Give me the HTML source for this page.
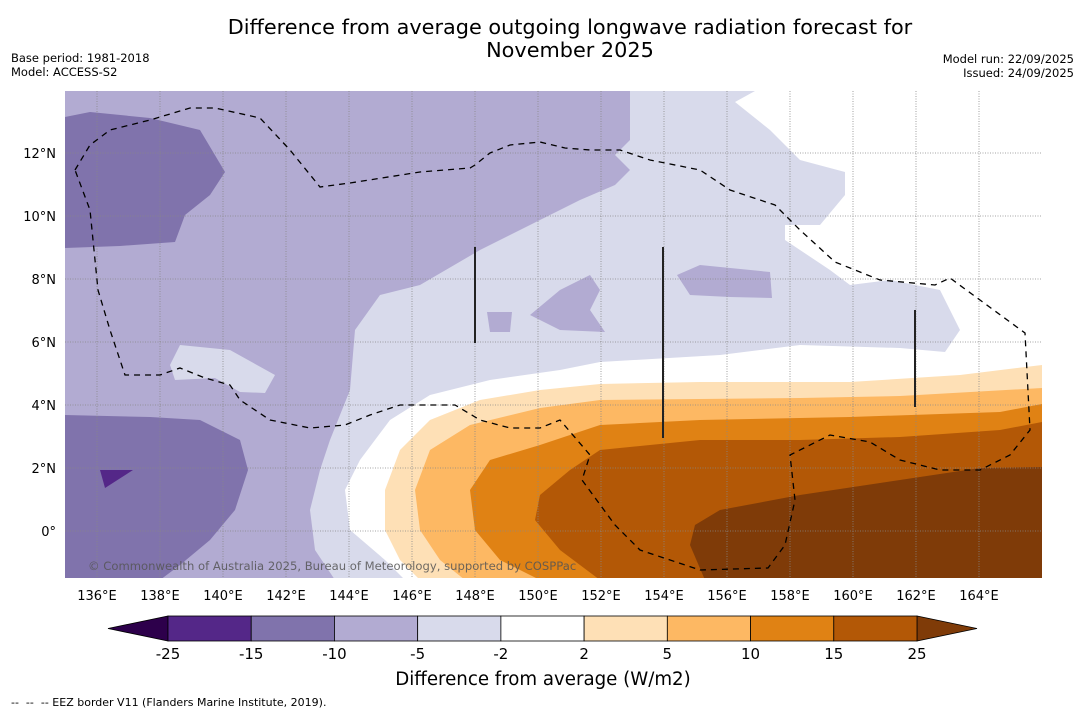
<!DOCTYPE html>
<html><head><meta charset="utf-8"><style>
body{margin:0;background:#fff;width:1085px;height:713px;overflow:hidden;font-family:"Liberation Sans","DejaVu Sans",sans-serif}
svg text{font-family:"DejaVu Sans","Liberation Sans",sans-serif}
</style></head><body>
<svg id="chart" width="1085" height="713" xmlns="http://www.w3.org/2000/svg">
<text x="570" y="34" font-size="20.8" text-anchor="middle">Difference from average outgoing longwave radiation forecast for</text>
<text x="570" y="57" font-size="20.8" text-anchor="middle">November 2025</text>
<text x="11" y="62" font-size="11.5">Base period: 1981-2018</text>
<text x="11" y="76" font-size="11.5">Model: ACCESS-S2</text>
<text x="1074" y="63" font-size="11.5" text-anchor="end">Model run: 22/09/2025</text>
<text x="1074" y="77" font-size="11.5" text-anchor="end">Issued: 24/09/2025</text>
<defs><clipPath id="mc"><rect x="65" y="91" width="977" height="487"/></clipPath></defs>
<g clip-path="url(#mc)">
<rect x="65" y="91" width="977" height="487" fill="#b2abd2"/>
<polygon fill="#8073ac" points="65,117 90,112 150,118 200,130 225,172 210,195 185,215 175,242 120,246 65,248"/>
<polygon fill="#8073ac" points="65,415 150,417 200,420 240,440 248,470 235,510 210,540 180,565 160,580 65,580"/>
<polygon fill="#542788" points="100,470 133,470 105,488"/>
<polygon fill="#d8daeb" points="630,91 1042,91 1042,580 335,580 315,550 310,510 320,470 330,440 350,390 355,330 380,295 420,285 480,250 540,220 580,200 615,185 630,170 615,155 630,140"/>
<polygon fill="#d8daeb" points="170,365 180,345 230,350 275,375 265,393 240,392 215,378 175,380"/>
<polygon fill="#b2abd2" points="530,315 560,290 590,275 600,290 590,310 605,332 560,330"/>
<polygon fill="#b2abd2" points="487,312 512,312 510,332 490,332"/>
<polygon fill="#b2abd2" points="677,275 700,265 770,272 772,298 730,297 690,295"/>
<polygon fill="#ffffff" points="1042,91 755,91 735,102 770,130 800,160 845,172 845,195 820,225 785,225 785,240 830,270 850,285 890,280 940,290 960,330 945,352 900,348 800,345 720,355 600,362 560,370 490,380 430,395 390,420 360,460 345,490 350,530 385,560 405,580 1042,580"/>
<polygon fill="#fee0b6" points="1042,365 960,375 850,382 700,382 600,384 540,390 480,400 430,420 400,450 385,490 385,530 400,560 420,580 1042,580"/>
<polygon fill="#fdb863" points="1042,388 900,396 800,398 600,400 540,408 470,425 430,450 415,490 420,530 440,560 465,580 1042,580"/>
<polygon fill="#e08214" points="1042,404 1000,412 850,417 700,420 600,425 540,445 490,460 470,490 475,530 500,560 540,580 1042,580"/>
<polygon fill="#b35806" points="1042,422 1000,430 900,437 800,440 700,440 600,450 570,470 540,495 535,520 560,550 600,580 1042,580"/>
<polygon fill="#7f3b08" points="1042,467 980,468 900,480 800,495 720,510 695,525 690,545 705,580 1042,580"/>
<g id="grid"></g>
<polyline fill="none" stroke="#000" stroke-width="1.3" stroke-dasharray="6,5" points="75,170 90,145 110,130 150,120 190,108 215,108 260,118 290,150 320,187 350,183 420,172 470,168 475,165 490,153 510,145 540,142 565,148 590,150 620,150 650,160 700,170 730,190 775,205 800,230 835,262 880,280 935,285 950,278 980,300 1025,333 1030,430 1010,455 980,470 940,470 900,460 870,442 830,435 790,455 795,500 785,545 768,568 700,570 640,550 615,525 582,480 590,455 560,420 540,428 510,428 480,420 455,405 400,405 370,415 345,425 310,428 270,420 240,400 230,385 205,378 180,368 160,375 125,375 110,330 98,290 90,210 75,170"/>
<line x1="475" y1="247" x2="475" y2="343" stroke="#222" stroke-width="2"/>
<line x1="663" y1="247" x2="663" y2="438" stroke="#222" stroke-width="2"/>
<line x1="915" y1="310" x2="915" y2="407" stroke="#222" stroke-width="2"/>
<text x="88" y="570" font-size="11.6" fill="#555" opacity="0.85">© Commonwealth of Australia 2025, Bureau of Meteorology, supported by COSPPac</text>
</g>
<g id="xaxis"></g>
<g id="yaxis"></g>
<g id="cbar"></g>
<text x="543" y="685" font-size="18.2" text-anchor="middle">Difference from average (W/m2)</text>
<text x="11" y="706" font-size="11" xml:space="preserve">--  --  -- EEZ border V11 (Flanders Marine Institute, 2019).</text>
</svg>
<script>
const lonTicks=[136,138,140,142,144,146,148,150,152,154,156,158,160,162,164];
const latTicks=[0,2,4,6,8,10,12];
const cbLevels=[-25,-15,-10,-5,-2,2,5,10,15,25];
const cbColors=["#542788","#8073ac","#b2abd2","#d8daeb","#ffffff","#fee0b6","#fdb863","#e08214","#b35806"];
const NS="http://www.w3.org/2000/svg";
const xS=lon=>97+(lon-136)*31.5;
const yS=lat=>531-lat*31.5;
function mk(t,a,p){const e=document.createElementNS(NS,t);for(const k in a)e.setAttribute(k,a[k]);p.appendChild(e);return e;}
const grid=document.getElementById('grid'),xa=document.getElementById('xaxis'),ya=document.getElementById('yaxis'),cb=document.getElementById('cbar');
lonTicks.forEach(l=>{
 const g=mk('line',{x1:xS(l),x2:xS(l),y1:91,y2:578,stroke:'#888',"stroke-width":0.8,"stroke-dasharray":"1,1.5"},grid);
 
 
 const t=mk('text',{x:xS(l),y:600,"font-size":13,"text-anchor":"middle"},xa);t.textContent=l+"°E";
 
 
});
latTicks.forEach(l=>{
 const g=mk('line',{x1:65,x2:1042,y1:yS(l),y2:yS(l),stroke:'#888',"stroke-width":0.8,"stroke-dasharray":"1,1.5"},grid);
 
 
 const t=mk('text',{x:56,y:yS(l)+5,"font-size":13,"text-anchor":"end"},ya);t.textContent=l===0?"0°":l+"°N";
 
 
});
const cx0=168,cx1=917,n=cbLevels.length-1,w=(cx1-cx0)/n,cy=616,ch=25;
let p=mk('polygon',{points:`108,${cy+ch/2} ${cx0},${cy} ${cx0},${cy+ch}`,fill:"#2d004b",stroke:"#000","stroke-width":0.8},cb);


p=mk('polygon',{points:`977,${cy+ch/2} ${cx1},${cy} ${cx1},${cy+ch}`,fill:"#7f3b08",stroke:"#000","stroke-width":0.8},cb);


cbColors.forEach((c,i)=>{
 const r=mk('rect',{x:cx0+i*w,y:cy,width:w,height:ch,fill:c,stroke:"#000","stroke-width":0.8},cb);
 
 
});
cbLevels.forEach((v,i)=>{
 const t=mk('text',{x:cx0+i*w,y:659,"font-size":15,"text-anchor":"middle"},cb);t.textContent=v;
 
 
});
</script>
</body></html>
